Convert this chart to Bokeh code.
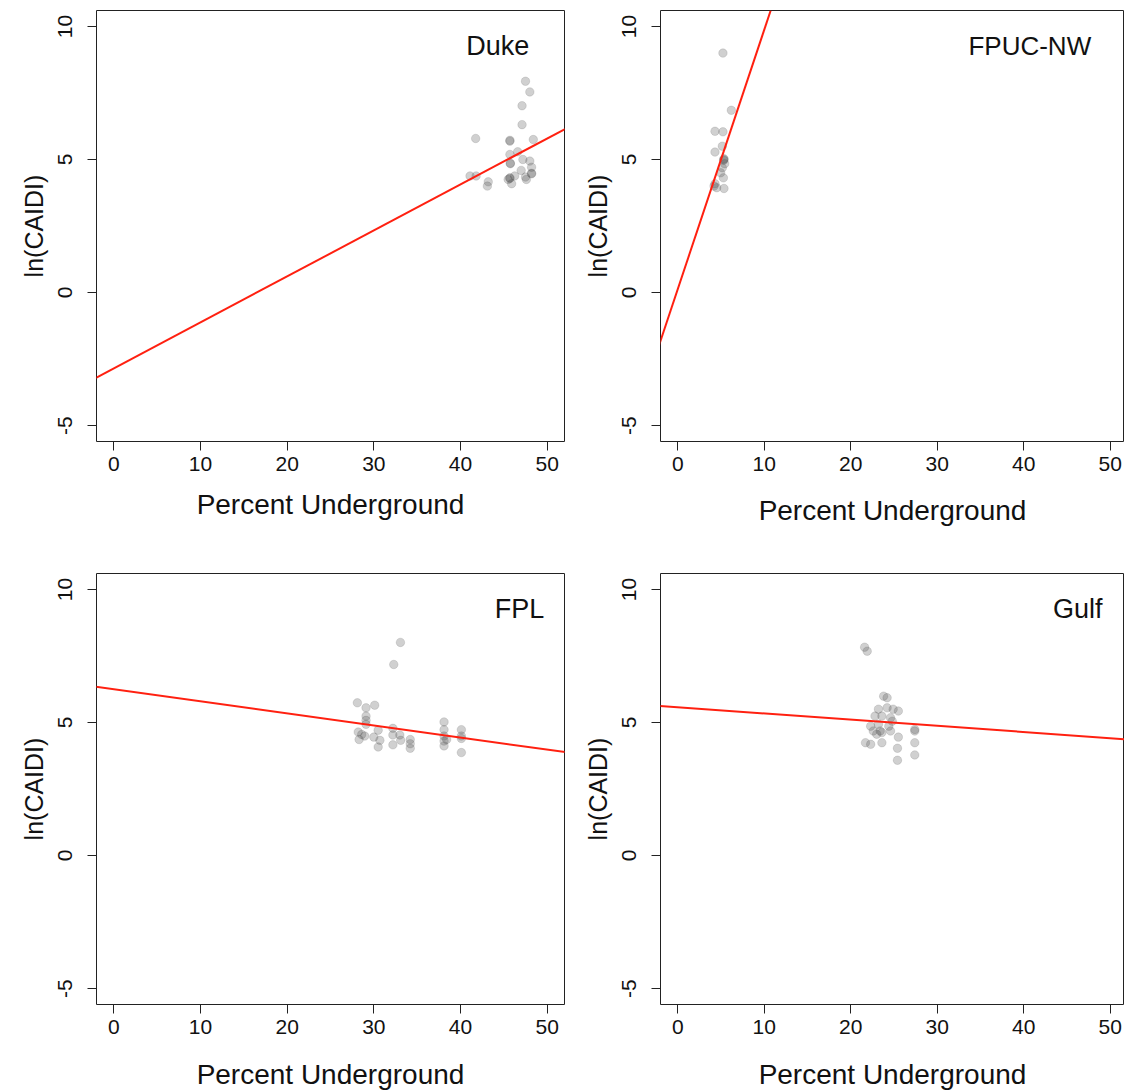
from bokeh.plotting import figure
from bokeh.layouts import column, row
from bokeh.models import Range1d, FixedTicker, Slope
from bokeh.core.properties import value
from bokeh.embed import file_html
from bokeh.resources import INLINE

# ---- data ----
duke_x = [47.5, 48.0, 47.1, 47.1, 41.75, 48.4, 45.7, 45.7, 45.7, 46.6, 47.2, 48.0, 45.75, 45.75,
          48.2, 47.0, 48.2, 48.2, 41.1, 41.8, 45.7, 45.7, 45.5, 46.25, 47.5, 43.2, 43.1, 45.9, 47.6]
duke_y = [7.94, 7.54, 7.02, 6.31, 5.79, 5.75, 5.69, 5.72, 5.19, 5.29, 5.0, 4.94, 4.84, 4.86,
          4.71, 4.59, 4.46, 4.48, 4.38, 4.38, 4.29, 4.31, 4.25, 4.38, 4.34, 4.16, 4.0, 4.09, 4.25]

fpuc_x = [5.22, 6.19, 4.3, 5.22, 5.15, 4.3, 5.34, 5.34, 5.3, 5.42, 5.15, 4.96, 5.27, 4.3, 4.5, 5.34, 4.19]
fpuc_y = [9.0, 6.85, 6.06, 6.04, 5.5, 5.28, 5.0, 5.03, 4.97, 4.84, 4.69, 4.5, 4.31, 4.09, 3.94, 3.91, 4.0]

fpl_x = [33.07, 32.3, 28.1, 29.1, 30.1, 29.1, 29.1, 29.1, 30.5, 32.2, 28.2, 28.6, 28.3, 28.95, 30.0,
         30.7, 30.5, 32.2, 33.0, 33.1, 32.2, 34.2, 34.2, 34.2, 38.1, 38.1, 38.1, 38.1, 38.1, 40.1,
         40.1, 40.1, 40.1, 38.4]
fpl_y = [8.01, 7.18, 5.74, 5.55, 5.65, 5.24, 5.08, 4.93, 4.71, 4.78, 4.64, 4.55, 4.36, 4.49, 4.45,
         4.33, 4.08, 4.53, 4.53, 4.33, 4.16, 4.36, 4.2, 4.03, 5.02, 4.73, 4.49, 4.3, 4.12, 4.73,
         4.49, 4.4, 3.87, 4.36]

gulf_x = [21.6, 21.9, 23.8, 24.2, 23.2, 24.2, 24.9, 25.5, 22.8, 23.6, 24.6, 24.8, 22.3, 23.2, 24.4,
          22.6, 23.4, 27.4, 27.4, 23.0, 23.6, 24.6, 25.5, 21.7, 22.3, 23.6, 27.4, 25.4, 27.4, 25.4]
gulf_y = [7.83, 7.68, 5.99, 5.93, 5.5, 5.55, 5.5, 5.43, 5.24, 5.24, 5.18, 5.05, 4.86, 4.93, 4.86,
          4.68, 4.68, 4.74, 4.68, 4.56, 4.62, 4.68, 4.45, 4.24, 4.18, 4.24, 4.24, 4.03, 3.78, 3.58]

names = ["Duke", "FPUC-NW", "FPL", "Gulf"]
slopes = [0.1728, 0.975, -0.0454, -0.0232]
intercepts = [-2.85, 0.13, 6.25, 5.57]
label_pos = [(44.3, 9.25), (40.7, 9.25), (46.8, 9.25), (46.25, 9.25)]

x_ticks = [0, 10, 20, 30, 40, 50]
y_ticks = [-5, 0, 5, 10]
y_tick_labels = {-5: "-5", 0: "0", 5: "5", 10: "10"}
x_title = "Percent Underground"
y_title = "ln(CAIDI)"

FONT = "Liberation Sans"


def panel(name, xs, ys, slope, intercept, lpos, width, height, bl, br, bt, bb, x_end, xstand, name_size):
    p = figure(width=width, height=height, x_range=Range1d(-2, x_end), y_range=Range1d(-5.6, 10.6),
               output_backend="svg", toolbar_location=None,
               min_border_left=bl, min_border_right=br, min_border_top=bt, min_border_bottom=bb)
    p.background_fill_color = "white"
    p.border_fill_color = "white"
    p.outline_line_color = "#222222"
    p.outline_line_width = 1
    p.xgrid.visible = False
    p.ygrid.visible = False

    p.scatter(xs, ys, size=8.5, fill_color="#444444", fill_alpha=0.25, line_color="#444444", line_alpha=0.15)
    p.add_layout(Slope(gradient=slope, y_intercept=intercept, line_color="#ff2010", line_width=2))
    p.text(x=[lpos[0]], y=[lpos[1]], text=[name], text_align="center", text_baseline="middle",
           text_font=value(FONT), text_font_size=name_size, text_color="#111111")

    for ax, ticks in ((p.xaxis[0], x_ticks), (p.yaxis[0], y_ticks)):
        ax.ticker = FixedTicker(ticks=ticks)
        ax.minor_tick_line_color = None
        ax.axis_line_color = None
        ax.major_tick_line_color = "#222222"
        ax.major_tick_out = 9
        ax.major_tick_in = 0
        ax.major_label_text_font = FONT
        ax.major_label_text_font_size = "21px"
        ax.major_label_text_color = "#111111"
        ax.axis_label_text_font = FONT
        ax.axis_label_text_font_style = "normal"
        ax.axis_label_text_color = "#111111"

    p.xaxis.axis_label = x_title
    p.xaxis.axis_label_text_font_size = "28px"
    p.xaxis.major_label_standoff = 6
    p.xaxis.axis_label_standoff = xstand
    p.yaxis.axis_label = y_title
    p.yaxis.axis_label_text_font_size = "25px"
    p.yaxis.major_label_overrides = y_tick_labels
    p.yaxis.major_label_orientation = "vertical"
    p.yaxis.major_label_standoff = 15
    p.yaxis.axis_label_standoff = 8
    return p


p1 = panel(names[0], duke_x, duke_y, slopes[0], intercepts[0], label_pos[0], 580, 541, 96, 16, 10, 100, 52, 15, "27px")
p2 = panel(names[1], fpuc_x, fpuc_y, slopes[1], intercepts[1], label_pos[1], 544, 541, 79, 0, 10, 100, 51.65, 21, "26px")
p3 = panel(names[2], fpl_x, fpl_y, slopes[2], intercepts[2], label_pos[2], 580, 551, 96, 16, 32, 88, 52, 22, "27px")
p4 = panel(names[3], gulf_x, gulf_y, slopes[3], intercepts[3], label_pos[3], 544, 551, 79, 0, 32, 88, 51.65, 22, "27px")

layout = column(row(p1, p2, spacing=0), row(p3, p4, spacing=0), spacing=0)

open("out.html", "w").write(file_html(layout, INLINE))
